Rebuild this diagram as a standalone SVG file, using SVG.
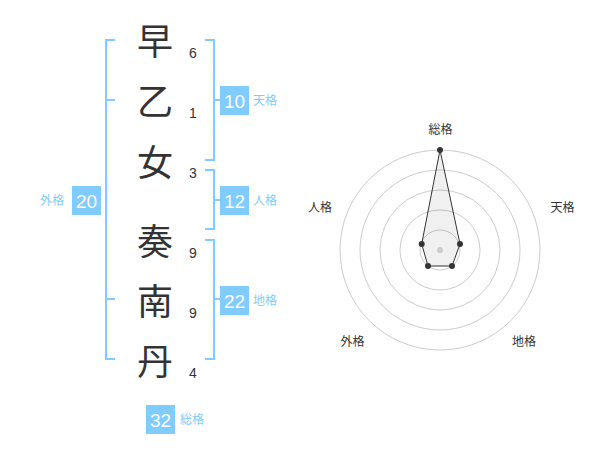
<svg xmlns="http://www.w3.org/2000/svg" width="600" height="470" viewBox="0 0 600 470">
<style>
.k{font-family:"Noto Sans CJK JP","Noto Sans CJK SC",sans-serif;font-size:36px;fill:#333;text-anchor:middle}
.n{font-family:"Liberation Sans",Arial,sans-serif;font-size:14px;fill:#333;text-anchor:middle}
.br{fill:none;stroke:#80ccff;stroke-width:2}
.box{fill:#80ccff}
.bt{font-family:"Liberation Sans",Arial,sans-serif;font-size:19px;fill:#fff;text-anchor:middle}
.bl{font-family:"Noto Sans CJK JP",sans-serif;font-size:12px;fill:#80ccff}
.rl{font-family:"Noto Sans CJK JP",sans-serif;font-size:12px;fill:#333;text-anchor:middle}
.ring{fill:none;stroke:#ccc;stroke-width:1}
</style>
<rect width="600" height="470" fill="#fff"/>
<g id="chars">
<text class="k" x="155" y="55">早</text>
<text class="k" x="155" y="115">乙</text>
<text class="k" x="155" y="176">女</text>
<text class="k" x="155" y="255">奏</text>
<text class="k" x="155" y="315">南</text>
<text class="k" x="155" y="375">丹</text>
</g>
<g id="strokes">
<text class="n" x="193" y="58">6</text>
<text class="n" x="193" y="118">1</text>
<text class="n" x="193" y="178">3</text>
<text class="n" x="193" y="258">9</text>
<text class="n" x="193" y="318">9</text>
<text class="n" x="193" y="378">4</text>
</g>
<g id="connectors">
<path class="br" d="M115,40 H106 V359 H115 M106,100 H115 M106,299 H115"/>
<path class="br" d="M205,40 H214 V160 H205 M214,100 H220"/>
<path class="br" d="M205,170 H214 V229 H205 M214,200 H220"/>
<path class="br" d="M205,240 H214 V359 H205 M214,299 H220"/>
</g>
<g id="tenkaku">
<rect class="box" x="220" y="86" width="29" height="29"/>
<text class="bt" x="234.5" y="107.5">10</text>
<text class="bl" x="253" y="105">天格</text>
</g>
<g id="jinkaku">
<rect class="box" x="220" y="186" width="29" height="29"/>
<text class="bt" x="234.5" y="207.5">12</text>
<text class="bl" x="253" y="205">人格</text>
</g>
<g id="chikaku">
<rect class="box" x="220" y="286" width="29" height="29"/>
<text class="bt" x="234.5" y="307.5">22</text>
<text class="bl" x="253" y="305">地格</text>
</g>
<g id="gaikaku">
<rect class="box" x="72" y="186" width="29" height="29"/>
<text class="bt" x="86.5" y="207.5">20</text>
<text class="bl" x="40" y="205">外格</text>
</g>
<g id="soukaku">
<rect class="box" x="146" y="405" width="29" height="29"/>
<text class="bt" x="160.5" y="426.5">32</text>
<text class="bl" x="180" y="424">総格</text>
</g>
<g id="radar">
<circle class="ring" cx="440" cy="250" r="20"/>
<circle class="ring" cx="440" cy="250" r="40"/>
<circle class="ring" cx="440" cy="250" r="60"/>
<circle class="ring" cx="440" cy="250" r="80"/>
<circle class="ring" cx="440" cy="250" r="100"/>
<polygon points="440,150 460,244 452,266 428,266 421.7,244" fill="#000" fill-opacity="0.06" stroke="#333" stroke-width="1"/>
<circle cx="440" cy="250" r="3" fill="#ccc"/>
<g fill="#333">
<circle cx="440" cy="150" r="3"/>
<circle cx="460" cy="244" r="3"/>
<circle cx="452" cy="266" r="3"/>
<circle cx="428" cy="266" r="3"/>
<circle cx="421.7" cy="244" r="3"/>
</g>
<text class="rl" x="440.5" y="134">総格</text>
<text class="rl" x="562.5" y="212">天格</text>
<text class="rl" x="320" y="212">人格</text>
<text class="rl" x="352.5" y="346">外格</text>
<text class="rl" x="524" y="346">地格</text>
</g>
</svg>
